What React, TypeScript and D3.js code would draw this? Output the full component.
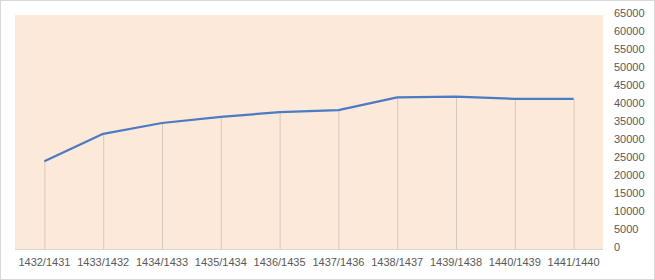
import React from "react";
import * as d3 from "d3";

const categories = ["1432/1431","1433/1432","1434/1433","1435/1434","1436/1435","1437/1436","1438/1437","1439/1438","1440/1439","1441/1440"];
const values = [24400, 32000, 35000, 36700, 38000, 38600, 42100, 42300, 41700, 41700];
const yTicks = [0,5000,10000,15000,20000,25000,30000,35000,40000,45000,50000,55000,60000,65000];

const W = 655, H = 280;
const plot = { left: 15, right: 603, top: 15, bottom: 249 };

export default function App() {
  const x = d3.scaleBand<string>().domain(categories).range([plot.left, plot.right]);
  const y = d3.scaleLinear().domain([0, 65000]).range([plot.bottom, plot.top]);
  const cx = (c: string) => (x(c) as number) + x.bandwidth() / 2;
  const line = d3.line<number>().x((_, i) => cx(categories[i])).y((d) => y(d));
  const font = "'Liberation Sans', Arial, sans-serif";
  return (
    <div style={{ position: "absolute", left: 0, top: 0 }}>
      <svg width={W} height={H} style={{ display: "block" }}>
        <rect x={0.5} y={0.5} width={W - 1} height={H - 1} fill="#ffffff" stroke="#d9d9d9" />
        <rect x={plot.left} y={plot.top} width={plot.right - plot.left} height={plot.bottom - plot.top} fill="#fde9da" />
        {values.map((v, i) => (
          <line key={i} x1={cx(categories[i]) + 0.5} x2={cx(categories[i]) + 0.5} y1={y(v)} y2={plot.bottom}
            stroke="#d6c8be" strokeWidth={1} />
        ))}
        <line x1={plot.left} x2={plot.right} y1={plot.bottom + 0.5} y2={plot.bottom + 0.5} stroke="#d9d9d9" />
        <path d={line(values) || ""} fill="none" stroke="#4a7bc4" strokeWidth={2.25} strokeLinejoin="round" />
        {categories.map((c) => (
          <text key={c} x={cx(c)} y={266} textAnchor="middle" fontFamily={font} fontSize={11} fill="#595959">{c}</text>
        ))}
        {yTicks.map((t) => (
          <text key={t} x={614} y={y(t) + 2} fontFamily={font} fontSize={11} fill="#595959">{t}</text>
        ))}
      </svg>
    </div>
  );
}
